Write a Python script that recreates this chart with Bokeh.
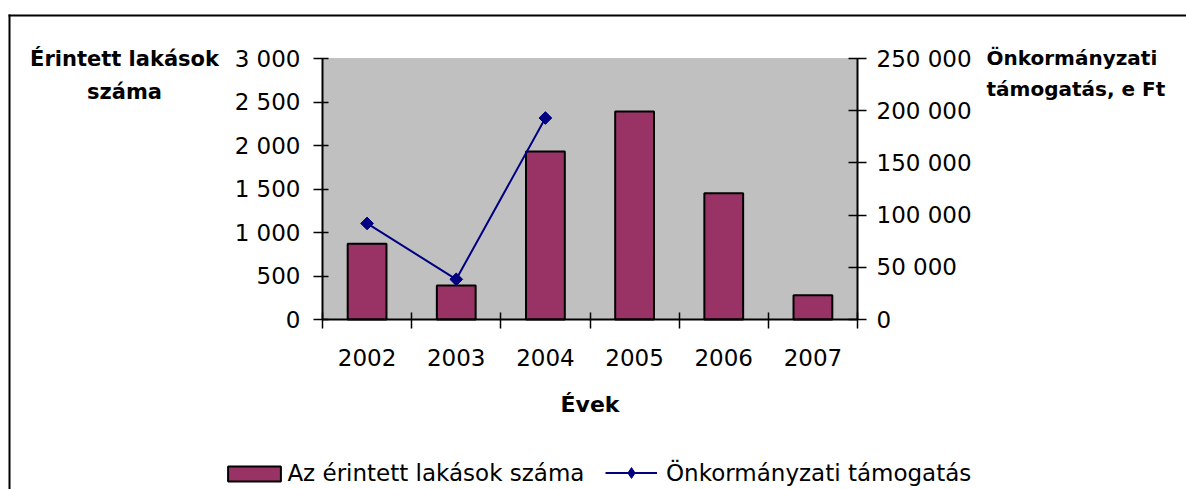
import math
from bokeh.plotting import figure
from bokeh.models import (Range1d, LinearAxis, FixedTicker, Label, Legend, LegendItem, BoxAnnotation)
from bokeh.embed import file_html
from bokeh.resources import INLINE

# ---- data ----
years = ["2002", "2003", "2004", "2005", "2006", "2007"]
lakasok = [870, 390, 1930, 2390, 1450, 280]          # Az érintett lakások száma
tamogatas_years = ["2002", "2003", "2004"]
tamogatas = [92000, 38500, 193000]                     # Önkormányzati támogatás, e Ft

left_ticks = [0, 500, 1000, 1500, 2000, 2500, 3000]
left_tick_labels = ["0", "500", "1 000", "1 500", "2 000", "2 500", "3 000"]
right_ticks = [0, 50000, 100000, 150000, 200000, 250000]
right_tick_labels = ["0", "50 000", "100 000", "150 000", "200 000", "250 000"]

bar_label = "Az érintett lakások száma"
line_label = "Önkormányzati támogatás"
left_title = ["Érintett lakások", "száma"]
right_title = ["Önkormányzati", "támogatás, e Ft"]
x_title = "Évek"

FONT = "DejaVu Sans"

# ---- layout (page pixels) ----
W, H = 1186, 489           # canvas, placed at page (0, 0)
PX0, PY0 = 0, 0
FL, FR, FT, FB = 322, 857, 58, 319   # plot area box in page pixels
LMAX, RMAX = left_ticks[-1], right_ticks[-1]
n = len(years)

kx = (FR - FL) / n
ky = (FB - FT) / LMAX
kr = (FB - FT) / RMAX
xs = -(FL - PX0) / kx
xe = xs + W / kx
ye = LMAX + (FT - PY0) / ky
ys = ye - H / ky
re_ = RMAX + (FT - PY0) / kr
rs = re_ - H / kr

def dx(px):
    return (px - FL) / kx
def dy(py):
    return (FB - py) / ky

x_centers = [i + 0.5 for i in range(n)]
x_bounds = [float(i) for i in range(n + 1)]
line_x = [years.index(y) + 0.5 for y in tamogatas_years]

p = figure(width=W, height=H, output_backend="svg", toolbar_location=None, title=None,
           x_range=Range1d(xs, xe), y_range=Range1d(ys, ye),
           min_border=0, min_border_left=0, min_border_right=0, min_border_top=0, min_border_bottom=0,
           background_fill_color="white", border_fill_color="white")
p.extra_y_ranges = {"right": Range1d(rs, re_)}
p.grid.visible = False
p.outline_line_color = None

# plot area background
p.add_layout(BoxAnnotation(left=0, right=n, bottom=0, top=LMAX, fill_color="#C0C0C0", fill_alpha=1,
                           line_color="#808080", line_width=1, level="underlay"))
# chart border: top and left edges as thin filled strips
p.add_layout(BoxAnnotation(left=dx(8), right=xe + 10, top=dy(14), bottom=dy(16),
                           fill_color="black", fill_alpha=1, line_color=None, level="overlay"))
p.add_layout(BoxAnnotation(left=dx(8), right=dx(10), top=dy(14), bottom=ys - 3000,
                           fill_color="black", fill_alpha=1, line_color=None, level="overlay"))

bars = p.vbar(x=x_centers, top=lakasok, width=0.435, bottom=0,
              fill_color="#993366", line_color="black", line_width=2)
ln = p.line(x=line_x, y=tamogatas, line_color="#000080", line_width=2, y_range_name="right")
# diamond under the rotated squares: shape used by the legend entry
mk_leg = p.scatter(x=line_x, y=tamogatas, marker="diamond", size=11,
                   fill_color="#000080", line_color="#000080", y_range_name="right")
mk = p.scatter(x=line_x, y=tamogatas, marker="square", size=9, angle=math.pi / 4,
               fill_color="#000080", line_color="#000080", y_range_name="right")

# x axis
xa = p.xaxis[0]
xa.fixed_location = 0
xa.bounds = (0, n)
xa.ticker = FixedTicker(ticks=x_centers, minor_ticks=x_bounds)
xa.major_label_overrides = {c: y for c, y in zip(x_centers, years)}
xa.major_tick_line_color = None
xa.major_tick_in = 0
xa.major_tick_out = 9
xa.minor_tick_in = 7
xa.minor_tick_out = 9
xa.minor_tick_line_color = "black"
xa.minor_tick_line_width = 1.5
xa.axis_line_color = "black"
xa.axis_line_width = 2
xa.major_label_text_font = FONT
xa.major_label_text_font_size = "23px"
xa.major_label_text_color = "black"
xa.major_label_standoff = 20
xa.axis_label = x_title
xa.axis_label_text_font = FONT
xa.axis_label_text_font_style = "bold"
xa.axis_label_text_font_size = "22px"
xa.axis_label_text_color = "black"
xa.axis_label_standoff = 23

# left axis
ya = p.yaxis[0]
ya.fixed_location = 0
ya.bounds = (0, LMAX)
ya.ticker = FixedTicker(ticks=left_ticks)
ya.major_label_overrides = {t: l for t, l in zip(left_ticks, left_tick_labels)}
ya.minor_tick_line_color = None
ya.major_tick_in = 6
ya.major_tick_out = 9
ya.major_tick_line_color = "black"
ya.major_tick_line_width = 1.5
ya.axis_line_color = "black"
ya.axis_line_width = 2
ya.major_label_text_font = FONT
ya.major_label_text_font_size = "23px"
ya.major_label_text_color = "black"
ya.major_label_standoff = 13

# right axis
ra = LinearAxis(y_range_name="right", ticker=FixedTicker(ticks=right_ticks), fixed_location=n,
                bounds=(0, RMAX))
ra.major_label_overrides = {t: l for t, l in zip(right_ticks, right_tick_labels)}
ra.minor_tick_line_color = None
ra.major_tick_in = 9
ra.major_tick_out = 9
ra.major_tick_line_color = "black"
ra.major_tick_line_width = 1.5
ra.axis_line_color = "black"
ra.axis_line_width = 2
ra.major_label_text_font = FONT
ra.major_label_text_font_size = "23px"
ra.major_label_text_color = "black"
ra.major_label_standoff = 10
p.add_layout(ra, "right")

# side titles
for txt, yb in zip(left_title, [58.3, 91.7]):
    p.add_layout(Label(x=dx(124), y=dy(yb), text=txt, text_align="center",
                       text_baseline="alphabetic", text_font=FONT, text_font_style="bold",
                       text_font_size="21px", text_color="black"))
for txt, yb in zip(right_title, [57.5, 88.5]):
    p.add_layout(Label(x=dx(986), y=dy(yb), text=txt, text_align="left",
                       text_baseline="alphabetic", text_font=FONT, text_font_style="bold",
                       text_font_size="20px", text_color="black"))

# legends
def style_legend(lg):
    lg.border_line_color = None
    lg.background_fill_alpha = 0
    lg.padding = 0
    lg.margin = 0
    lg.label_text_font = FONT
    lg.label_text_font_size = "23px"
    lg.label_text_color = "black"

LEG_BOTTOM = 486
lg1 = Legend(items=[LegendItem(label=bar_label, renderers=[bars])],
             location=(221.4 - PX0, (PY0 + H) - LEG_BOTTOM), glyph_width=66, glyph_height=19,
             label_height=19, label_standoff=0)
style_legend(lg1)
lg2 = Legend(items=[LegendItem(label=line_label, renderers=[ln, mk_leg])],
             location=(605 - PX0, (PY0 + H) - LEG_BOTTOM), glyph_width=52, glyph_height=27,
             label_height=19, label_standoff=9)
style_legend(lg2)
p.add_layout(lg1, "center")
p.add_layout(lg2, "center")

open("out.html", "w").write(file_html(p, INLINE))
